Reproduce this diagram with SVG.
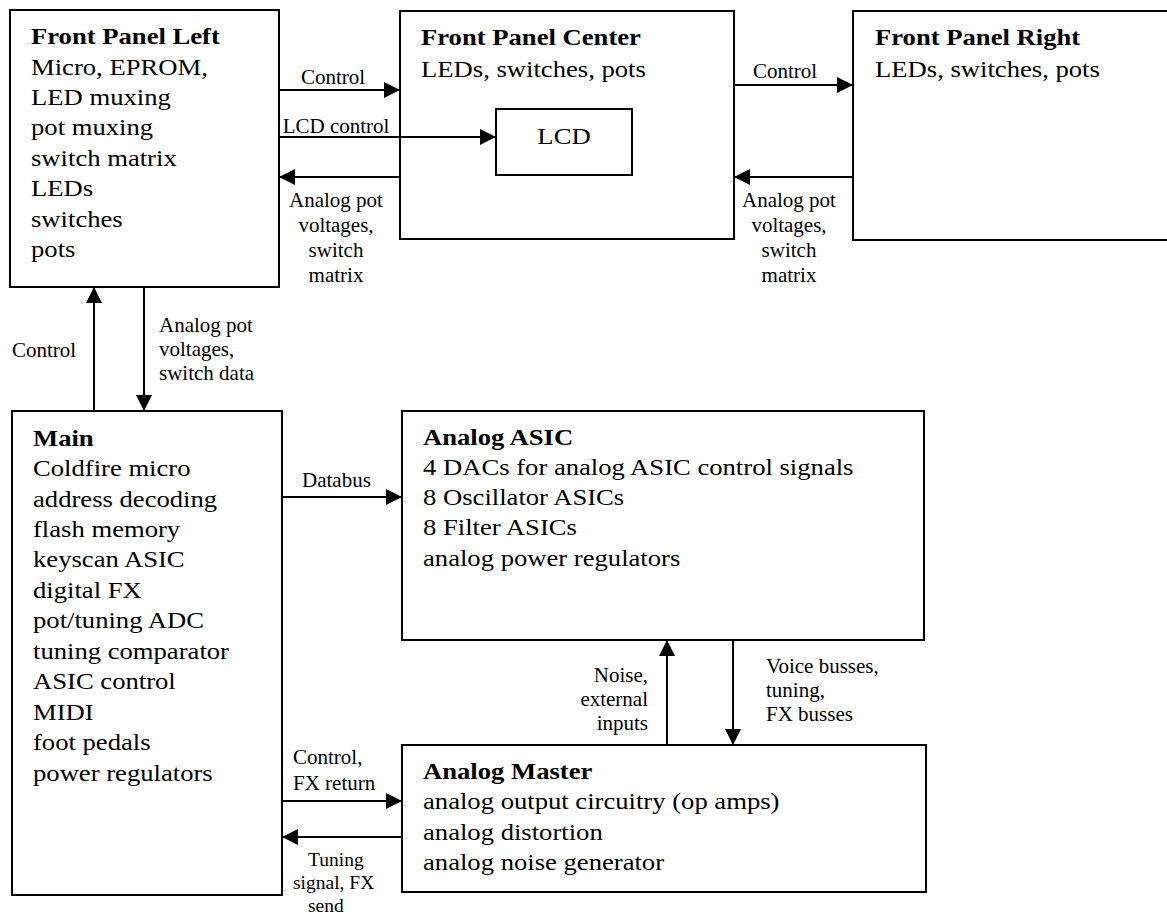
<svg xmlns="http://www.w3.org/2000/svg" width="1167" height="916" viewBox="0 0 1167 916">
<style>
.box{fill:#fff;stroke:#000;stroke-width:2}
.big{font-family:"Liberation Serif","Times New Roman",serif;font-size:24px;fill:#000}
.b{font-weight:bold}
.lbl{font-family:"Liberation Serif","Times New Roman",serif;font-size:21px;fill:#000}
.sm{font-size:19.5px}
.c{text-anchor:middle}
.r{text-anchor:end}
.wire{stroke:#000;stroke-width:2;fill:none;marker-end:url(#ah)}
</style>
<defs>
<marker id="ah" markerUnits="userSpaceOnUse" markerWidth="16" markerHeight="16" refX="16" refY="8" orient="auto">
<path d="M0,0 L16,8 L0,16 z" fill="#000"/>
</marker>
</defs>
<rect width="1167" height="916" fill="#fff"/>

<g id="fpl">
<rect class="box" x="10" y="10" width="269" height="277"/>
<g transform="translate(31,0) scale(1.11,1)">
<text class="big b" x="0" y="44">Front Panel Left</text>
<text class="big" x="0" y="75">Micro, EPROM,</text>
<text class="big" x="0" y="105">LED muxing</text>
<text class="big" x="0" y="135">pot muxing</text>
<text class="big" x="0" y="166">switch matrix</text>
<text class="big" x="0" y="196">LEDs</text>
<text class="big" x="0" y="227">switches</text>
<text class="big" x="0" y="257">pots</text>
</g>
</g>

<g id="fpc">
<rect class="box" x="400" y="11" width="334" height="228"/>
<g transform="translate(421,0) scale(1.11,1)">
<text class="big b" x="0" y="45">Front Panel Center</text>
<text class="big" x="0" y="77">LEDs, switches, pots</text>
</g>
</g>

<g id="lcd">
<rect class="box" x="496" y="109" width="136" height="66"/>
<g transform="translate(564,0) scale(1.11,1)">
<text class="big c" x="0" y="144">LCD</text>
</g>
</g>

<g id="fpr">
<rect class="box" x="853" y="11" width="330" height="229"/>
<g transform="translate(875,0) scale(1.11,1)">
<text class="big b" x="0" y="45">Front Panel Right</text>
<text class="big" x="0" y="77">LEDs, switches, pots</text>
</g>
</g>

<g id="main">
<rect class="box" x="12" y="411" width="270" height="484"/>
<g transform="translate(33,0) scale(1.11,1)">
<text class="big b" x="0" y="446">Main</text>
<text class="big" x="0" y="476">Coldfire micro</text>
<text class="big" x="0" y="507">address decoding</text>
<text class="big" x="0" y="537">flash memory</text>
<text class="big" x="0" y="567">keyscan ASIC</text>
<text class="big" x="0" y="598">digital FX</text>
<text class="big" x="0" y="628">pot/tuning ADC</text>
<text class="big" x="0" y="659">tuning comparator</text>
<text class="big" x="0" y="689">ASIC control</text>
<text class="big" x="0" y="720">MIDI</text>
<text class="big" x="0" y="750">foot pedals</text>
<text class="big" x="0" y="781">power regulators</text>
</g>
</g>

<g id="asic">
<rect class="box" x="402" y="411" width="522" height="229"/>
<g transform="translate(423,0) scale(1.11,1)">
<text class="big b" x="0" y="445">Analog ASIC</text>
<text class="big" x="0" y="475">4 DACs for analog ASIC control signals</text>
<text class="big" x="0" y="505">8 Oscillator ASICs</text>
<text class="big" x="0" y="535">8 Filter ASICs</text>
<text class="big" x="0" y="566">analog power regulators</text>
</g>
</g>

<g id="master">
<rect class="box" x="402" y="745" width="524" height="147"/>
<g transform="translate(423,0) scale(1.11,1)">
<text class="big b" x="0" y="779">Analog Master</text>
<text class="big" x="0" y="809">analog output circuitry (op amps)</text>
<text class="big" x="0" y="840">analog distortion</text>
<text class="big" x="0" y="870">analog noise generator</text>
</g>
</g>

<g id="connectors">
<line class="wire" x1="279" y1="90" x2="400" y2="90"/>
<line class="wire" x1="279" y1="137" x2="496" y2="137"/>
<line class="wire" x1="400" y1="177" x2="279" y2="177"/>
<line class="wire" x1="734" y1="85" x2="853" y2="85"/>
<line class="wire" x1="853" y1="177" x2="734" y2="177"/>
<line class="wire" x1="94" y1="411" x2="94" y2="287"/>
<line class="wire" x1="144" y1="287" x2="144" y2="411"/>
<line class="wire" x1="282" y1="497" x2="402" y2="497"/>
<line class="wire" x1="282" y1="801" x2="402" y2="801"/>
<line class="wire" x1="402" y1="837" x2="282" y2="837"/>
<line class="wire" x1="667" y1="745" x2="667" y2="640"/>
<line class="wire" x1="733" y1="640" x2="733" y2="745"/>

<text class="lbl c" x="333" y="84">Control</text>
<text class="lbl c" x="336" y="133">LCD control</text>
<text class="lbl c" x="336" y="207">Analog pot</text>
<text class="lbl c" x="336" y="232">voltages,</text>
<text class="lbl c" x="336" y="257">switch</text>
<text class="lbl c" x="336" y="282">matrix</text>
<text class="lbl c" x="785" y="78">Control</text>
<text class="lbl c" x="789" y="207">Analog pot</text>
<text class="lbl c" x="789" y="232">voltages,</text>
<text class="lbl c" x="789" y="257">switch</text>
<text class="lbl c" x="789" y="282">matrix</text>
<text class="lbl" x="12" y="357">Control</text>
<text class="lbl" x="159" y="332">Analog pot</text>
<text class="lbl" x="159" y="356">voltages,</text>
<text class="lbl" x="159" y="380">switch data</text>
<text class="lbl" x="302" y="487">Databus</text>
<text class="lbl r" x="648" y="682">Noise,</text>
<text class="lbl r" x="648" y="706">external</text>
<text class="lbl r" x="648" y="730">inputs</text>
<text class="lbl" x="766" y="673">Voice busses,</text>
<text class="lbl" x="766" y="697">tuning,</text>
<text class="lbl" x="766" y="721">FX busses</text>
<text class="lbl" x="293" y="764">Control,</text>
<text class="lbl" x="293" y="790">FX return</text>
<text class="lbl sm" x="308" y="866">Tuning</text>
<text class="lbl sm" x="293" y="889">signal, FX</text>
<text class="lbl sm" x="308" y="912">send</text>
</g>
</svg>
